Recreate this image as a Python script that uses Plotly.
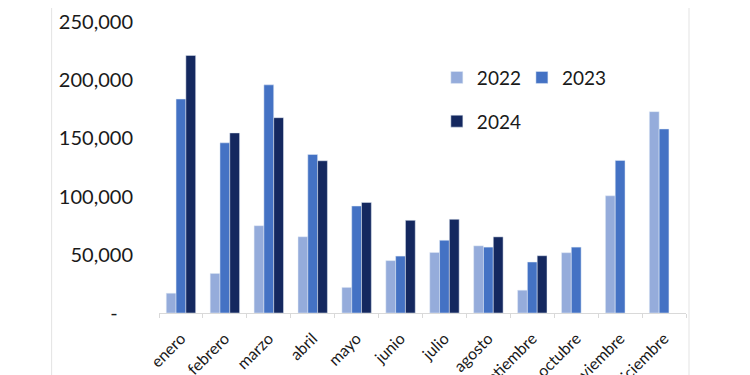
import plotly.graph_objects as go

meses = ["enero", "febrero", "marzo", "abril", "mayo", "junio", "julio",
         "agosto", "septiembre", "octubre", "noviembre", "diciembre"]
v2022 = [17000, 34000, 75000, 65500, 22000, 45000, 52000, 57700, 19600, 51800, 100700, 173000]
v2023 = [183800, 146200, 196000, 136200, 91900, 48900, 62500, 56600, 43800, 56600, 131100, 158100]
v2024 = [221300, 154700, 167800, 130800, 95000, 79600, 80500, 65400, 49200, None, None, None]

ytickvals = [0, 50000, 100000, 150000, 200000, 250000]
yticktext = ["-\u00a0\u00a0\u00a0", "50,000", "100,000", "150,000", "200,000", "250,000"]

colors = {"2022": "#95acdb", "2023": "#4472c4", "2024": "#14285f"}

fig = go.Figure()
fig.add_trace(go.Bar(x=meses, y=v2022, name="2022", marker_color=colors["2022"], legend="legend"))
fig.add_trace(go.Bar(x=meses, y=v2023, name="2023", marker_color=colors["2023"], legend="legend2"))
fig.add_trace(go.Bar(x=meses, y=v2024, name="2024", marker_color=colors["2024"], legend="legend3"))

FONT = "Lato, 'Open Sans', sans-serif"
# figure is placed with an 8px page margin; coordinates below are figure pixels
W, H = 742, 367
L, T = 151.3, 13.7
PR, PB = 678.0, 304.7
R, B = W - PR, H - PB
pw = PR - L
ph = PB - T


def px_x(x):
    return (x - L) / pw


def px_y(y):
    return 1 - (y - T) / ph


leg_common = dict(bgcolor="rgba(0,0,0,0)", font=dict(family=FONT, size=19, color="#1a1a1a"),
                  xanchor="left", yanchor="middle", orientation="h")

fig.update_layout(
    width=W, height=H,
    margin=dict(l=L, r=R, t=T, b=B, autoexpand=False),
    paper_bgcolor="white", plot_bgcolor="white",
    barmode="group", bargap=0.33, bargroupgap=0,
    font=dict(family=FONT, color="#1a1a1a"),
    showlegend=True,
    legend=dict(x=px_x(429), y=px_y(69.3), **leg_common),
    legend2=dict(x=px_x(514), y=px_y(69.3), **leg_common),
    legend3=dict(x=px_x(429), y=px_y(113), **leg_common),
    xaxis=dict(
        type="category", showline=True, linecolor="#d9d9d9", linewidth=1,
        ticks="outside", tickson="boundaries", ticklen=4, tickcolor="#d9d9d9",
        tickangle=-45, tickfont=dict(family=FONT, size=16, color="#1a1a1a"),
        ticklabelstandoff=9,
        automargin=False, showgrid=False,
    ),
    yaxis=dict(
        range=[0, 250000], tickvals=ytickvals, ticktext=yticktext,
        showgrid=False, zeroline=False, showline=False,
        tickfont=dict(family=FONT, size=20, color="#1a1a1a"),
        ticklabelstandoff=25, automargin=False,
    ),
    shapes=[
        dict(type="line", xref="paper", yref="paper", x0=px_x(44), x1=px_x(44), y0=px_y(-10), y1=px_y(H),
             line=dict(color="#e3e3e3", width=1)),
        dict(type="line", xref="paper", yref="paper", x0=px_x(681), x1=px_x(681), y0=px_y(-10), y1=px_y(H),
             line=dict(color="#e3e3e3", width=1)),
    ],
)

fig.write_html("out.html")
